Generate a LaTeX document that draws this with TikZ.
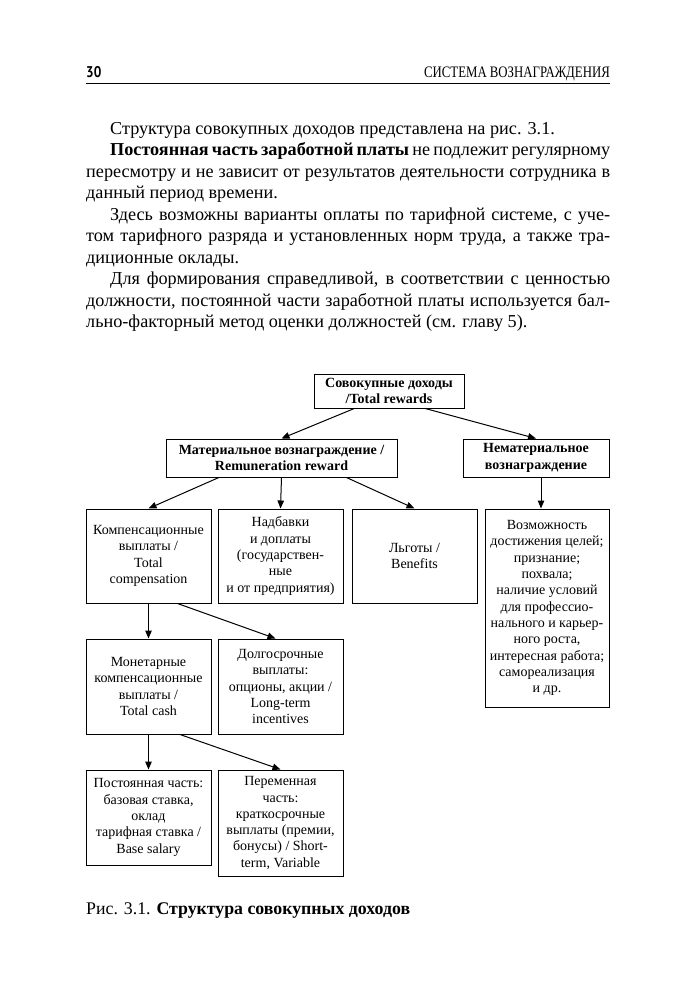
\documentclass[tikz,border=0pt]{standalone}
\usepackage{fontspec}
\setmainfont{Liberation Serif}
\newfontfamily\headfont[FakeStretch=0.8]{Liberation Serif}
\newfontfamily\numfont[FakeStretch=0.86]{PT Sans}
\usetikzlibrary{arrows.meta,positioning,calc}

\begin{document}
\begin{tikzpicture}[x=1pt,y=-1pt,
		box/.style={draw,line width=1pt,inner sep=2pt,align=center,minimum width=125pt,
			font=\fontsize{14}{16.3}\selectfont},
		hbox/.style={box,font=\fontsize{14}{16.3}\selectfont\bfseries},
		arr/.style={line width=1pt,-{Triangle[length=8pt,width=6.5pt]}}]
	\useasboundingbox[fill=white] (0,0) rectangle (672,1000);
	% header
	\node[anchor=base west,inner sep=0pt,font=\numfont\bfseries\fontsize{15.5}{18}\selectfont] (pg) at (86,78) {30};
	\node[anchor=base east,inner sep=0pt,font=\headfont\fontsize{16}{18}\selectfont] (run) at (610,78) {СИСТЕМА ВОЗНАГРАЖДЕНИЯ};
	\draw[line width=1.2pt] (86,83.5) -- (610,83.5);
	% text
	\node[anchor=north west,inner sep=0pt,text width=524pt,align=justify,
		font=\fontsize{18.2}{21.5}\selectfont] (txt) at (86,122) {%
		\hyphenpenalty=10000\relax
		\hspace*{24pt}Структура совокупных доходов представлена на рис. 3.1.\par
		\hspace*{24pt}\textbf{Постоянная часть заработной платы} не подлежит регулярному\linebreak
		пересмотру и не зависит от результатов деятельности сотрудника в\linebreak
		данный период времени.\par
		\hspace*{24pt}Здесь возможны варианты оплаты по тарифной системе, с уче-\linebreak
		том тарифного разряда и установленных норм труда, а также тра-\linebreak
		диционные оклады.\par
		\hspace*{24pt}Для формирования справедливой, в соответствии с ценностью\linebreak
		должности, постоянной части заработной платы используется бал-\linebreak
		льно-факторный метод оценки должностей (см. главу 5).};
	% scheme
	\node[hbox,minimum width=150pt,minimum height=34pt] (tot) at (389,391) {Совокупные доходы\\/Total rewards};
	\node[hbox,minimum width=231pt,minimum height=38pt] (mat) at (281.5,458) {Материальное вознаграждение /\\Remuneration reward};
	\node[hbox,minimum width=146pt,minimum height=38pt] (nmat) at (536,458) {Нематериальное\\вознаграждение};
	\node[box,minimum height=94pt] (comp) at (148.5,556) {Компенсационные\\выплаты /\\Total\\compensation};
	\node[box,minimum height=94pt] (add) at (280.5,556) {Надбавки\\и доплаты\\(государствен-\\ные\\и от предприятия)};
	\node[box,minimum height=94pt] (ben) at (414.5,556) {Льготы /\\Benefits};
	\node[box,minimum width=124pt,minimum height=198pt] (intr) at (547,608) {Возможность\\достижения целей;\\признание;\\похвала;\\наличие условий\\для профессио-\\нального и карьер-\\ного роста,\\интересная работа;\\самореализация\\и др.};
	\node[box,minimum height=95pt] (cash) at (148.5,686.5) {Монетарные\\компенсационные\\выплаты /\\Total cash};
	\node[box,minimum height=95pt] (lti) at (280.5,686.5) {Долгосрочные\\выплаты:\\опционы, акции /\\Long-term\\incentives};
	\node[box,minimum height=95pt] (base) at (148.5,817.5) {Постоянная часть:\\базовая ставка,\\оклад\\тарифная ставка /\\Base salary};
	\node[box,minimum height=106pt] (var) at (280.5,823) {Переменная\\часть:\\краткосрочные\\выплаты (премии,\\бонусы) / Short-\\term, Variable};
	\draw[arr] ($(tot.south west)!0.27!(tot.south east)$) -- (mat.north);
	\draw[arr] ($(tot.south west)!0.74!(tot.south east)$) -- (nmat.north);
	\draw[arr] ($(mat.south west)!0.23!(mat.south east)$) -- (comp.north);
	\draw[arr] (mat.south) -- (add.north);
	\draw[arr] ($(mat.south west)!0.78!(mat.south east)$) -- (ben.north);
	\draw[arr] ([xshift=5pt]nmat.south) -- ([xshift=-6pt]intr.north);
	\draw[arr] (comp.south) -- (cash.north);
	\draw[arr] ($(comp.south west)!0.73!(comp.south east)$) -- ([xshift=-5pt]lti.north);
	\draw[arr] (cash.south) -- (base.north);
	\draw[arr] ($(cash.south west)!0.75!(cash.south east)$) -- (var.north);
	% caption
	\node[anchor=base west,inner sep=0pt,font=\fontsize{17.8}{21.5}\selectfont] (cap) at (86,914) {Рис. 3.1. \textbf{Структура совокупных доходов}};
\end{tikzpicture}
\end{document}
